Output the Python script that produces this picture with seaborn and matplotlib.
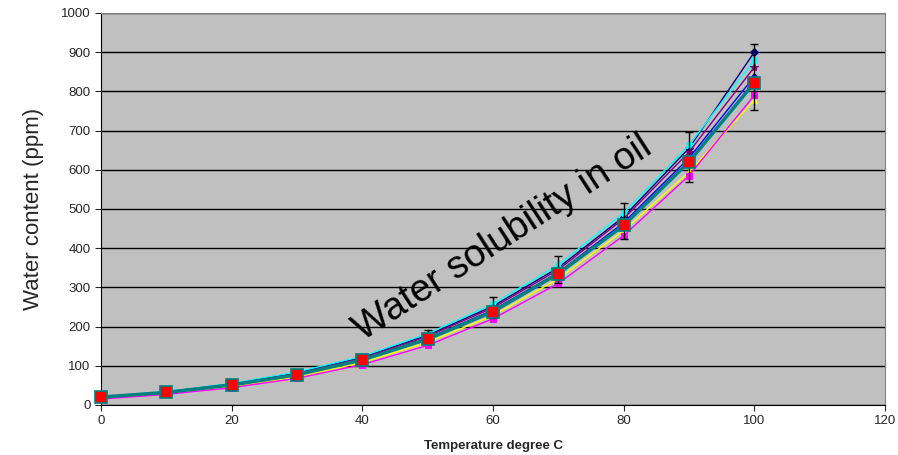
import numpy as np
import pandas as pd
import matplotlib.pyplot as plt
import seaborn as sns

# ======== DATA ========
temps = [0, 10, 20, 30, 40, 50, 60, 70, 80, 90, 100]
navy = [18, 33, 54, 82, 122, 178, 252, 350, 480, 655, 900]
cyan = [19, 34, 55, 84, 124, 182, 258, 358, 490, 663, 880]
purple = [20, 33, 53, 80, 120, 175, 248, 345, 475, 645, 862]
blue = [19, 32, 52, 78, 117, 170, 242, 338, 465, 630, 838]
yellow = [17, 29, 47, 72, 108, 160, 228, 322, 445, 594, 778]
magenta = [15, 27, 44, 68, 103, 152, 220, 310, 432, 585, 790]
mean = [20, 32, 51, 77, 115, 168, 238, 335, 458, 620, 822]
err_low = [1, 2, 3, 4, 7, 10, 15, 24, 35, 51, 70]
err_high = [2, 3, 4, 6, 13, 22, 37, 45, 58, 76, 98]
# =======================

sns.set_style("white")
plt.rcParams['font.family'] = ['Liberation Sans', 'DejaVu Sans']

series = {"navy": navy, "cyan": cyan, "purple": purple, "blue": blue,
          "yellow": yellow, "magenta": magenta}
df = pd.DataFrame([(name, t, v) for name, vals in series.items() for t, v in zip(temps, vals)],
                  columns=["series", "temp", "ppm"])

styles = {
    "navy": ("#000080", "D", 4),
    "cyan": ("#00FFFF", "X", 5),
    "purple": ("#800080", "*", 6),
    "blue": ("#0000FF", "o", 3),
    "yellow": ("#FFFF00", "^", 5),
    "magenta": ("#FF00FF", "s", 5),
}

fig = plt.figure(figsize=(8.98, 4.55), dpi=100)
ax = fig.add_axes([0.1125, 0.11, 0.873, 0.8615])
ax.set_facecolor("#C0C0C0")

for name, (col, mk, ms) in styles.items():
    sns.lineplot(data=df[df.series == name], x="temp", y="ppm", color=col, marker=mk,
                 markersize=ms, markeredgecolor=col, linewidth=1, ax=ax, legend=False)

# mean series with error bars
ax.errorbar(temps, mean, yerr=[err_low, err_high], fmt="none", ecolor="black",
            elinewidth=1, capsize=3, zorder=4)
sns.lineplot(x=temps, y=mean, color="#008080", linewidth=2.5, marker="s", markersize=8.5,
             markerfacecolor="red", markeredgecolor="#008080", markeredgewidth=1.2,
             ax=ax, legend=False, zorder=5, clip_on=False)

ax.set_xlim(0, 120)
ax.set_ylim(0, 1000)
ax.set_xticks(range(0, 121, 20))
ax.set_yticks(range(0, 1001, 100))
ax.yaxis.grid(True, color="black", linewidth=1)
ax.set_axisbelow(True)
for s in ["top", "right"]:
    ax.spines[s].set_color("#808080")
for s in ["left", "bottom"]:
    ax.spines[s].set_color("black")
ax.tick_params(axis="both", labelsize=9.5, length=4, direction="out", bottom=True, left=True)
ax.set_xlabel("Temperature degree C", fontsize=9.5, fontweight="bold")
ax.set_ylabel("Water content (ppm)", fontsize=16)
ax.xaxis.labelpad = 9
ax.yaxis.labelpad = 12

ax.text(61.5, 425, "Water solubility in oil", fontsize=27.5, rotation=33,
        ha="center", va="center", color="black", zorder=6)

fig.savefig("out.png", dpi=100)
